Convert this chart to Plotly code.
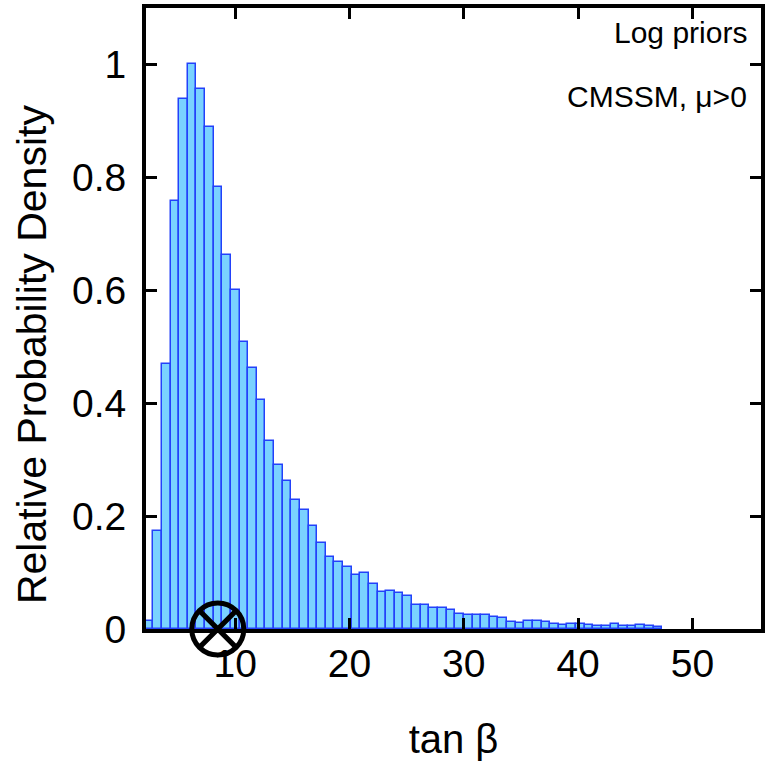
import numpy as np
import plotly.graph_objects as go

# ---- data ----
bin_start = 2.08      # left edge of first histogram bin (tan beta)
bin_width = 0.7548    # histogram bin width (tan beta)
density = [
    0.015, 0.174, 0.470, 0.758, 0.938, 1.000, 0.956, 0.890, 0.783, 0.663,
    0.600, 0.509, 0.462, 0.406, 0.333, 0.291, 0.262, 0.229, 0.210, 0.182,
    0.152, 0.127, 0.118, 0.109, 0.095, 0.099, 0.080, 0.065, 0.068, 0.063,
    0.059, 0.042, 0.042, 0.038, 0.038, 0.033, 0.027, 0.025, 0.024, 0.025,
    0.021, 0.019, 0.012, 0.011, 0.014, 0.014, 0.012, 0.009, 0.007, 0.009,
    0.008, 0.007, 0.006, 0.006, 0.008, 0.005, 0.005, 0.007, 0.005, 0.004,
]
best_fit_x = [8.48]
best_fit_y = [0.0]
x_ticks = [10, 20, 30, 40, 50]
y_ticks = [0, 0.2, 0.4, 0.6, 0.8, 1]
y_tick_text = ["0", "0.2", "0.4", "0.6", "0.8", "1"]
x_label = "tan β"
y_label = "Relative Probability Density"
notes = ["Log priors", "CMSSM, μ>0"]

centers = bin_start + (np.arange(len(density)) + 0.5) * bin_width

FONT = "Liberation Sans, Arial, Helvetica, sans-serif"

fig = go.Figure()
fig.add_trace(go.Bar(
    x=centers, y=density, width=bin_width,
    marker=dict(color="rgb(122,210,255)",
                line=dict(color="rgb(35,65,250)", width=1.5)),
    showlegend=False,
))
fig.add_trace(go.Scatter(
    x=best_fit_x, y=best_fit_y, mode="markers",
    marker=dict(symbol="circle-x-open", size=52, color="black",
                line=dict(color="black", width=5)),
    cliponaxis=False, showlegend=False,
))

axis_common = dict(
    showline=True, linewidth=4, linecolor="black", mirror="ticks",
    ticks="inside", ticklen=11, tickwidth=3, tickcolor="black",
    showgrid=False, zeroline=False,
    tickfont=dict(family=FONT, size=39, color="black"),
)

fig.update_layout(
    width=769, height=776,
    margin=dict(l=146, r=4, t=6, b=147),
    paper_bgcolor="white", plot_bgcolor="white",
    bargap=0,
    xaxis=dict(range=[2.2, 56.0], tickvals=x_ticks,
               ticklabelstandoff=-3,
               title=dict(text=x_label, font=dict(family=FONT, size=40, color="black"),
                          standoff=42),
               **axis_common),
    yaxis=dict(range=[0, 1.1], tickvals=y_ticks, ticktext=y_tick_text,
               ticklabelstandoff=8,
               **axis_common),
    annotations=[
        dict(text=y_label, textangle=-90, xref="paper", yref="paper",
             x=-0.185, y=0.443, xanchor="center", yanchor="middle",
             showarrow=False, font=dict(family=FONT, size=41, color="black")),
        dict(text=notes[0], xref="paper", yref="paper",
             x=0.98, y=0.96, xanchor="right", yanchor="middle",
             showarrow=False, font=dict(family=FONT, size=30, color="black")),
        dict(text=notes[1], xref="paper", yref="paper",
             x=0.98, y=0.857, xanchor="right", yanchor="middle",
             showarrow=False, font=dict(family=FONT, size=30, color="black")),
    ],
)

fig.write_html("out.html")
